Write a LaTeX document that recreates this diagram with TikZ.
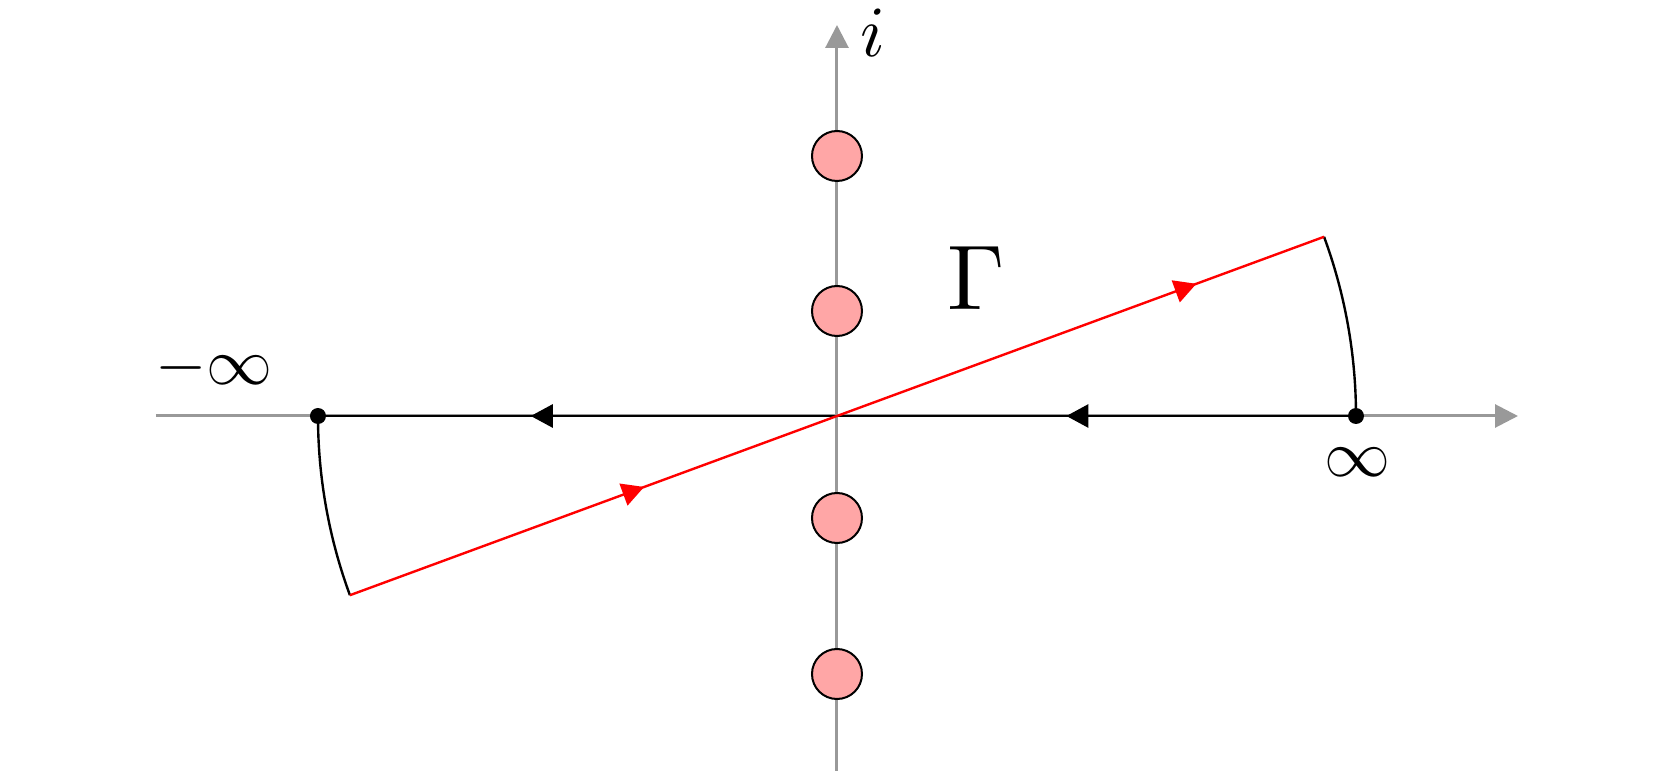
\RequirePackage{fix-cm}
\documentclass[tikz,border=0pt]{standalone}
\usetikzlibrary{arrows.meta,decorations.markings}
\tikzset{
  axis/.style={draw=black!40, line width=1.5pt, -{Triangle[length=11.5pt,width=11.5pt]}},
  pole/.style={circle, draw=black, line width=1pt, fill=red!35, minimum size=25pt, inner sep=0pt},
  endpt/.style={circle, fill=black, minimum size=8pt, inner sep=0pt},
  blackpath/.style={draw=black, line width=1.4pt},
  redpath/.style={draw=red, line width=1.2pt},
  arcpath/.style={draw=black, line width=1.2pt},
  lbl/.style={inner sep=0pt},
}
\begin{document}
\begin{tikzpicture}[x=0.5pt,y=0.5pt]
\useasboundingbox (-837,-355) rectangle (824,416);
% axes
\coordinate (xl) at (-681,0);
\coordinate (xr) at (681,0);
\coordinate (yb) at (0,-360);
\coordinate (yt) at (0,391);
\draw[axis] (xl) -- (xr);
\draw[axis] (yb) -- (yt);
% poles
\node[pole] (p1) at (0,260) {};
\node[pole] (p2) at (0,105) {};
\node[pole] (p3) at (0,-102) {};
\node[pole] (p4) at (0,-258) {};
% end points
\coordinate (O) at (0,0);
\coordinate (A) at (20.2:519);
\coordinate (B) at (200.2:519);
\node[endpt] (R) at (519,0) {};
\node[endpt] (L) at (-519,0) {};
% black path along real axis
\draw[blackpath, postaction={decorate}, decoration={markings,
  mark=at position 0.279 with {\arrow{Triangle[length=11pt,width=11.5pt]}},
  mark=at position 0.795 with {\arrow{Triangle[length=11pt,width=11.5pt]}}}]
  (R.center) -- (L.center);
% arcs
\draw[arcpath] (R.center) arc[start angle=0, end angle=20.2, radius=519];
\draw[arcpath] (L.center) arc[start angle=180, end angle=200.2, radius=519];
% red contour
\draw[redpath, postaction={decorate}, decoration={markings,
  mark=at position 0.302 with {\arrow{Triangle[length=11pt,width=11.5pt]}},
  mark=at position 0.869 with {\arrow{Triangle[length=11pt,width=11.5pt]}}}]
  (B) -- (A);
% labels
\node[lbl, scale=3.6] (li) at (36,383) {$i$};
\node[lbl, scale=4.6] (lg) at (139,138) {$\Gamma$};
\node[lbl, scale=3.3] (lm) at (-623,48) {$-\infty$};
\node[lbl, scale=3.3] (lp) at (521,-46) {$\infty$};
\end{tikzpicture}
\end{document}
